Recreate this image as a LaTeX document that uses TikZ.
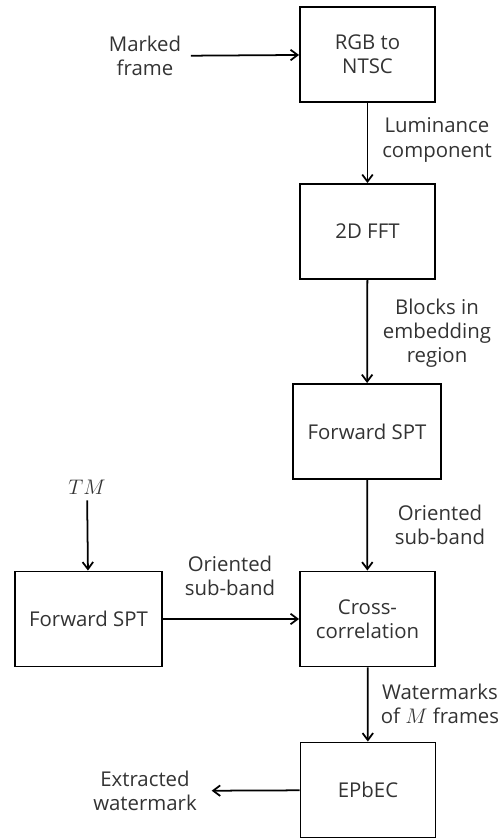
\documentclass[tikz,border=0pt]{standalone}
\usepackage{fontspec}
\setmainfont{Open Sans}
\usetikzlibrary{arrows.meta}

\begin{document}
\begin{tikzpicture}[x=0.02cm, y=-0.02cm,
  block/.style={draw, line width=1.1pt, minimum width=2.7cm, minimum height=1.9cm,
    align=center, text=black!80, font=\fontsize{11.6}{13.8}\selectfont},
  lbl/.style={align=center, text=black!80, font=\fontsize{11.6}{13.8}\selectfont},
  flow/.style={-{Straight Barb[length=4pt,width=6pt]}, line width=1pt}]
  \useasboundingbox (0,0) rectangle (501,840);

  % main chain
  \node [block] (rgb) at (367.5,54.5) {RGB to\\NTSC};
  \node [block] (fft) at (367.5,231.5) {2D FFT};
  \node [block, minimum width=2.96cm] (sptb) at (367,431.5) {Forward SPT};
  \node [block] (xcor) at (367.5,619) {Cross-\\correlation};
  \node [block] (epbec) at (368,790) {EPbEC};

  % side branch
  \node [block, minimum width=2.94cm] (spta) at (88.5,619) {Forward SPT};
  \node [lbl] (tm) at (87,487) {$TM$};
  \node [lbl] (marked) at (145,56) {Marked\\frame};
  \node [lbl] (extr) at (145,791) {Extracted\\watermark};

  % labels
  \node [lbl] (lum) at (437,140) {Luminance\\component};
  \node [lbl] (blk) at (437,333) {Blocks in\\embedding\\region};
  \node [lbl] (oria) at (440,525) {Oriented\\sub-band};
  \node [lbl] (orib) at (230,576) {Oriented\\sub-band};
  \node [lbl] (wmk) at (440,704) {Watermarks\\of $M$ frames};

  \draw [flow, shorten <=2pt] (marked) -- (rgb);
  \draw [flow] (rgb) -- (fft);
  \draw [flow] (fft) -- (sptb);
  \draw [flow] (sptb) -- (xcor);
  \draw [flow] (xcor) -- (epbec);
  \draw [flow] (tm) -- (spta);
  \draw [flow] (spta) -- (xcor);
  \draw [flow, shorten >=5pt] (epbec) -- (extr);
\end{tikzpicture}
\end{document}
